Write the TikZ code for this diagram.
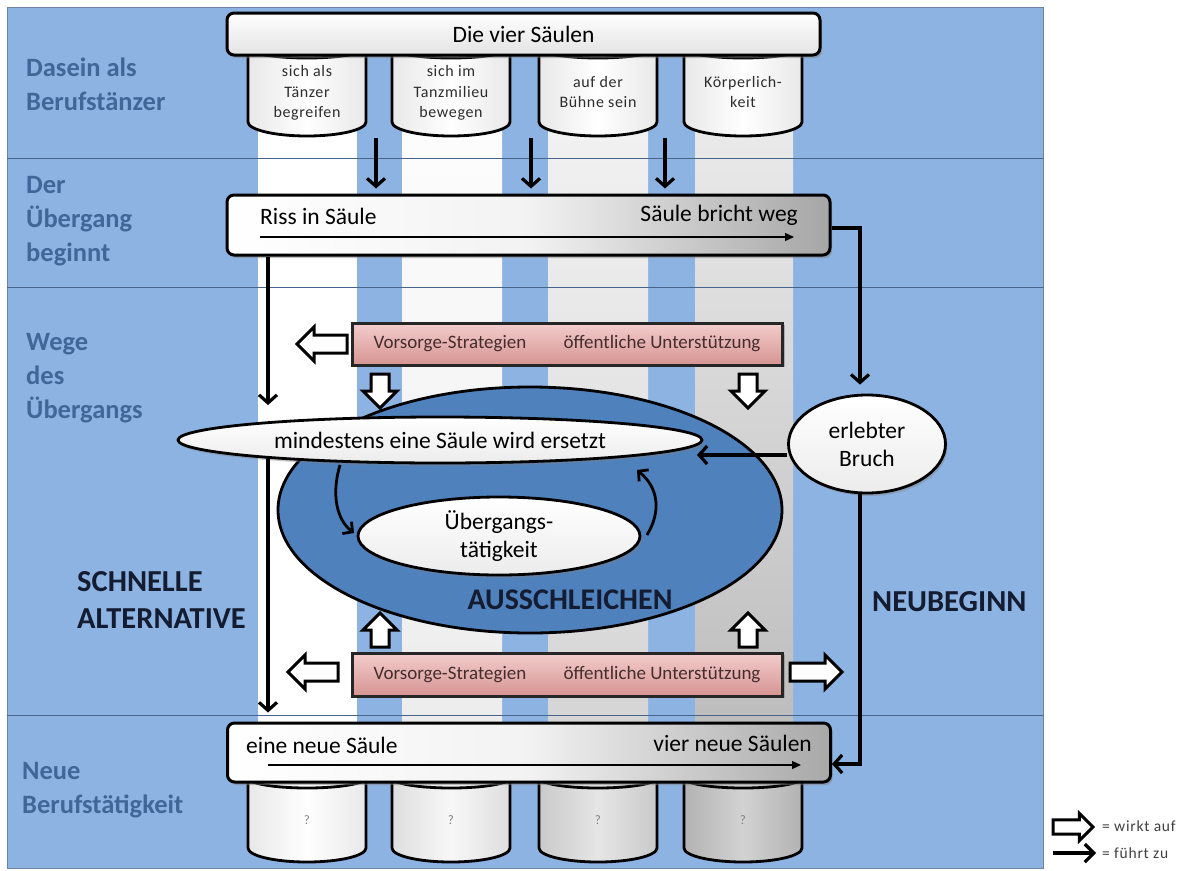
\documentclass[tikz,border=0pt]{standalone}
\usepackage{fontspec}
\setmainfont{Carlito}
\usetikzlibrary{arrows.meta,shadows,shapes.geometric,calc}
\definecolor{panel}{RGB}{141,179,226}
\definecolor{rowline}{RGB}{70,100,140}
\definecolor{labblue}{RGB}{63,103,151}
\definecolor{navy}{RGB}{20,28,50}
\definecolor{ellblue}{RGB}{79,129,189}
\definecolor{pinkL}{RGB}{242,205,204}
\definecolor{pinkD}{RGB}{214,148,146}
\definecolor{pinktext}{RGB}{70,45,45}
\definecolor{txtgray}{RGB}{45,45,45}
\tikzset{
  pics/hollow/.style={code={
    \draw[line width=3pt,fill=white,line join=miter]
      (-#1/2,-9) -- (#1/2-17,-9) -- (#1/2-17,-17) -- (#1/2,0) -- (#1/2-17,17) -- (#1/2-17,9) -- (-#1/2,9) -- cycle;}},
  rowlabel/.style={anchor=west,align=left,inner sep=0pt,text=labblue,font=\bfseries\fontsize{26.5}{34}\selectfont},
  biglabel/.style={anchor=west,align=left,inner sep=0pt,text=navy,font=\bfseries\fontsize{30.5}{37}\selectfont},
  bar/.style={draw=black,line width=3pt,rounded corners=7pt,inner sep=0pt,
    drop shadow={shadow xshift=2pt,shadow yshift=-3pt,opacity=.5}},
  bartxt/.style={inner sep=0pt,font=\fontsize{23.5}{28}\selectfont},
  pinkbox/.style={draw=black!85,line width=3pt,top color=pinkL,bottom color=pinkD,
    drop shadow={shadow xshift=2pt,shadow yshift=-2pt,opacity=.5},minimum width=430,minimum height=42},
  pinktxt/.style={inner sep=0pt,text=pinktext,font=\fontsize{19}{22}\selectfont},
  cyltxt/.style={align=center,inner sep=0pt,text=txtgray,font=\fontsize{16}{20.5}\selectfont\addfontfeature{LetterSpace=4}},
  qtxt/.style={inner sep=0pt,text=gray,font=\fontsize{13}{15}\selectfont},
  ell/.style={ellipse,draw=black,line width=2.8pt,top color=white,bottom color=gray!15,inner sep=0pt,
    drop shadow={shadow xshift=2pt,shadow yshift=-3pt,opacity=.4},font=\fontsize{23.5}{28}\selectfont,align=center},
  conn/.style={line width=3.2pt,-{Straight Barb[length=8pt,width=18pt]}},
  curv/.style={line width=2.8pt,-{Straight Barb[length=7pt,width=15pt]}},
  inarrow/.style={line width=1.3pt,-{Triangle[length=9pt,width=8pt]}},
  legtxt/.style={anchor=west,inner sep=0pt,text=black!75,font=\fontsize{15.5}{17}\selectfont\addfontfeature{LetterSpace=5}}
}
\newcommand{\pillarshape}[4]{%
  \draw[line width=2.8pt,#4] (#1-59,#2) -- (#1-59,#3)
     arc[start angle=180,end angle=360,x radius=59pt,y radius=14pt]
     -- (#1+59,#2) -- cycle;
  \draw[line width=2.8pt,#4] (#1,#2+3) ellipse[x radius=59pt,y radius=10pt];
}
\begin{document}
\begin{tikzpicture}[x=1pt,y=-1pt]
\fill[white] (0,0) rectangle (1183,870);
\useasboundingbox (0,0) rectangle (1183,870);
% panel
\draw[fill=panel,draw=rowline!80,line width=.8pt] (7,7) rectangle (1043,868);
% stripes
\fill[white] (258,50) rectangle (357,785);
\shade[top color=white,bottom color=gray!16] (402,50) rectangle (502,785);
\shade[top color=gray!8,bottom color=gray!35] (548,50) rectangle (648,785);
\shade[top color=gray!12,bottom color=gray!55] (695,50) rectangle (793,785);
% row lines
\draw[rowline,line width=.8pt] (7,158) -- (1043,158);
\draw[rowline,line width=.8pt] (7,287) -- (1043,287);
\draw[rowline,line width=.8pt] (7,715) -- (1043,715);
% row labels
\node[rowlabel] (lab1) at (26,84) {Dasein als\\Berufstänzer};
\node[rowlabel] (lab2) at (26,221) {Der\\Übergang\\beginnt};
\node[rowlabel] (lab3) at (26,378) {Wege\\des\\Übergangs};
\node[rowlabel] (lab4) at (22,790) {Neue\\Berufstätigkeit};
% top pillars
\pillarshape{307}{45}{122}{left color=gray!18,right color=gray!18,middle color=white}
\pillarshape{451}{45}{122}{left color=gray!18,right color=gray!18,middle color=white}
\pillarshape{598}{45}{122}{left color=gray!18,right color=gray!18,middle color=white}
\pillarshape{743}{45}{122}{left color=gray!18,right color=gray!18,middle color=white}
\node[cyltxt] (p1) at (307,93) {sich als\\Tänzer\\begreifen};
\node[cyltxt] (p2) at (451,93) {sich im\\Tanzmilieu\\bewegen};
\node[cyltxt] (p3) at (598,92) {auf der\\Bühne sein};
\node[cyltxt] (p4) at (743,92) {Körperlich-\\keit};
% top box
\node[bar,top color=white,bottom color=gray!22,minimum width=593,minimum height=42,font=\fontsize{23.5}{28}\selectfont] (box1) at (523.5,34) {Die vier Säulen};
% box 2
\node[bar,left color=white,right color=gray!70,middle color=gray!10,minimum width=603,minimum height=60] (box2) at (528.5,225) {};
\node[bartxt,anchor=west] (riss) at (260,216) {Riss in Säule};
\node[bartxt,anchor=east] (bricht) at (798,215) {Säule bricht weg};
\coordinate (r1) at (260,237);
\coordinate (r2) at (794,237);
\draw[inarrow] (r1) -- (r2);
% arrows pillars -> box2
\coordinate (d1) at (376,138);
\coordinate (d2) at (531,138);
\coordinate (d3) at (665,138);
\draw[conn,shorten >=5pt] (d1) -- (box2.north -| d1);
\draw[conn,shorten >=5pt] (d2) -- (box2.north -| d2);
\draw[conn,shorten >=5pt] (d3) -- (box2.north -| d3);
% pink boxes
\node[pinkbox] (pk1) at (567.5,344) {};
\node[pinktxt] (pk1a) at (450,344) {Vorsorge-Strategien};
\node[pinktxt] (pk1b) at (662,344) {öffentliche Unterstützung};
\node[pinkbox,minimum height=43] (pk2) at (567.5,674.5) {};
\node[pinktxt] (pk2a) at (450,675) {Vorsorge-Strategien};
\node[pinktxt] (pk2b) at (662,675) {öffentliche Unterstützung};
% hollow arrows
\pic[rotate=180] at (322,344) {hollow=50};
\pic[rotate=-90] at (380,391) {hollow=34};
\pic[rotate=-90] at (748,391) {hollow=34};
\pic[rotate=90] at (380,630) {hollow=34};
\pic[rotate=90] at (748,630) {hollow=34};
\pic[rotate=180] at (313,672) {hollow=50};
\pic at (816,672) {hollow=52};
% ellipses
\node[ellipse,draw=black,line width=2.8pt,fill=ellblue,minimum width=504,minimum height=246] (big) at (530,510) {};
\node[ell,minimum width=282,minimum height=78] (ueb) at (499,536) {Übergangs-\\tätigkeit};
\node[ell,minimum width=524,minimum height=46] (mind) at (440,440) {mindestens eine Säule wird ersetzt};
\node[inner sep=0pt,text=navy,font=\bfseries\fontsize{30}{36}\selectfont] (aus) at (570,600) {AUSSCHLEICHEN};
% curved arrows
\coordinate (ca1) at (340,465);
\coordinate (ca2) at (354,533);
\coordinate (ca3) at (637,470);
\coordinate (ca4) at (647,535);
\draw[curv] (ca1) .. controls (331,495) and (337,520) .. (ca2);
\draw[curv] (ca4) .. controls (661,512) and (659,488) .. (ca3);
% left path
\coordinate (lt) at (268,405);
\coordinate (lb) at (268,457);
\draw[conn] (box2.south -| lt) -- (lt);
% erlebter Bruch
\node[ell,minimum width=157,minimum height=98] (bruch) at (867,444) {erlebter\\Bruch};
\coordinate (bk) at (860,228);
\draw[conn,shorten >=9pt] (box2.east |- bk) -- (bk) -- (bruch.north -| bk);
\coordinate (mt) at (697,455);
\draw[conn] (bruch.west |- mt) -- (mt);
% bottom pillars
\pillarshape{307}{775}{848}{left color=gray!18,right color=gray!18,middle color=white}
\pillarshape{451}{775}{848}{left color=gray!26,right color=gray!26,middle color=gray!6}
\pillarshape{598}{775}{848}{left color=gray!42,right color=gray!42,middle color=gray!20}
\pillarshape{743}{775}{848}{left color=gray!60,right color=gray!60,middle color=gray!35}
\node[qtxt] (q1) at (307,820) {?};
\node[qtxt] (q2) at (451,820) {?};
\node[qtxt] (q3) at (598,820) {?};
\node[qtxt] (q4) at (743,820) {?};
% box 3
\node[bar,left color=white,right color=gray!68,middle color=gray!10,minimum width=603,minimum height=59] (box3) at (529,752.5) {};
\node[bartxt,anchor=west] (eine) at (246,745) {eine neue Säule};
\node[bartxt,anchor=east] (vier) at (812,743) {vier neue Säulen};
\coordinate (n1) at (268,765);
\coordinate (n2) at (801,765);
\draw[inarrow] (n1) -- (n2);
\draw[conn,shorten >=9pt] (lb) -- (box3.north -| lb);
\coordinate (b3) at (860,764);
\draw[conn] (bruch.south -| b3) -- (b3) -- (box3.east |- b3);
% big labels
\node[biglabel] (schnell) at (77,600) {SCHNELLE\\ALTERNATIVE};
\node[biglabel] (neu) at (872,602) {NEUBEGINN};
% legend
\pic[scale=.8] at (1073,827) {hollow=50};
\node[legtxt] (lw) at (1102,826) {= wirkt auf};
\coordinate (lg1) at (1053,853);
\coordinate (lg2) at (1096,853);
\draw[line width=3.2pt,-{Straight Barb[length=9pt,width=18pt]}] (lg1) -- (lg2);
\node[legtxt] (lf) at (1102,853) {= führt zu};
\end{tikzpicture}
\end{document}
